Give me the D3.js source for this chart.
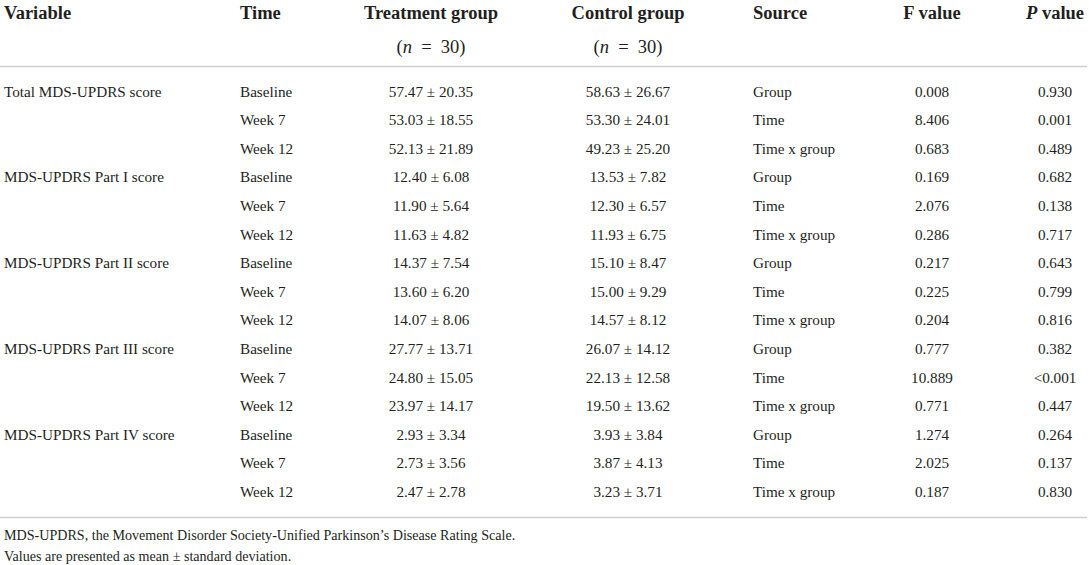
<!DOCTYPE html>
<html>
<head>
<meta charset="utf-8">
<script src="https://cdn.jsdelivr.net/npm/d3@7"></script>
<style>
  body { margin: 0; background: #fff; }
  svg text { font-family: "Liberation Serif", "Times New Roman", serif; fill: #231f20; }
</style>
</head>
<body>
<svg id="tbl" width="1089" height="565"></svg>
<script>
// table content
const variables = ["Total MDS-UPDRS score", "MDS-UPDRS Part I score", "MDS-UPDRS Part II score",
  "MDS-UPDRS Part III score", "MDS-UPDRS Part IV score"];
const times = ["Baseline", "Week 7", "Week 12"];
const sources = ["Group", "Time", "Time x group"];
const treatment = [
  "57.47 ± 20.35", "53.03 ± 18.55", "52.13 ± 21.89",
  "12.40 ± 6.08", "11.90 ± 5.64", "11.63 ± 4.82",
  "14.37 ± 7.54", "13.60 ± 6.20", "14.07 ± 8.06",
  "27.77 ± 13.71", "24.80 ± 15.05", "23.97 ± 14.17",
  "2.93 ± 3.34", "2.73 ± 3.56", "2.47 ± 2.78"
];
const control = [
  "58.63 ± 26.67", "53.30 ± 24.01", "49.23 ± 25.20",
  "13.53 ± 7.82", "12.30 ± 6.57", "11.93 ± 6.75",
  "15.10 ± 8.47", "15.00 ± 9.29", "14.57 ± 8.12",
  "26.07 ± 14.12", "22.13 ± 12.58", "19.50 ± 13.62",
  "3.93 ± 3.84", "3.87 ± 4.13", "3.23 ± 3.71"
];
const fValues = ["0.008", "8.406", "0.683", "0.169", "2.076", "0.286", "0.217", "0.225", "0.204",
  "0.777", "10.889", "0.771", "1.274", "2.025", "0.187"];
const pValues = ["0.930", "0.001", "0.489", "0.682", "0.138", "0.717", "0.643", "0.799", "0.816",
  "0.382", "<0.001", "0.447", "0.264", "0.137", "0.830"];
const footnotes = [
  "MDS-UPDRS, the Movement Disorder Society-Unified Parkinson’s Disease Rating Scale.",
  "Values are presented as mean ± standard deviation."
];

// one row per variable/time pair
const rows = d3.range(variables.length * times.length).map(i => ({
  variable: i % times.length === 0 ? variables[i / times.length] : "",
  time: times[i % times.length],
  treatment: treatment[i],
  control: control[i],
  source: sources[i % sources.length],
  f: fValues[i],
  p: pValues[i]
}));

// n = 30 line under the two group headers
const nLine = [{t: "(", w: "normal"}, {t: "n", i: true, w: "normal"}, {t: "\u2002=\u200230)", w: "normal"}];

// columns: x is left edge or centre depending on anchor
const columns = [
  {key: "variable", x: 4, anchor: "start", head: [[{t: "Variable"}]]},
  {key: "time", x: 240, anchor: "start", head: [[{t: "Time"}]]},
  {key: "treatment", x: 431, anchor: "middle", head: [[{t: "Treatment group"}], nLine]},
  {key: "control", x: 628, anchor: "middle", head: [[{t: "Control group"}], nLine]},
  {key: "source", x: 753, anchor: "start", head: [[{t: "Source"}]]},
  {key: "f", x: 932, anchor: "middle", head: [[{t: "F value"}]]},
  {key: "p", x: 1055, anchor: "middle", head: [[{t: "P", i: true}, {t: " value"}]]}
];

const svg = d3.select("#tbl");
const width = 1089;

const y = d3.scaleBand()
  .domain(d3.range(rows.length))
  .range([77, 506])
  .paddingInner(0);

// header
const head = svg.append("g").attr("class", "head");
columns.forEach(c => {
  c.head.forEach((line, li) => {
    const t = head.append("text")
      .attr("x", c.x)
      .attr("y", 19 + li * 34)
      .attr("text-anchor", c.anchor)
      .attr("font-size", 18.5)
      .attr("font-weight", "bold");
    line.forEach(part => {
      t.append("tspan")
        .attr("font-style", part.i ? "italic" : null)
        .attr("font-weight", part.w || null)
        .text(part.t);
    });
  });
});

// rules
const rules = [66.5, 517.5];
svg.selectAll("line.rule")
  .data(rules)
  .join("line")
  .attr("class", "rule")
  .attr("x1", 0)
  .attr("x2", width - 2)
  .attr("y1", d => d)
  .attr("y2", d => d)
  .attr("stroke", "#cfcfcf")
  .attr("stroke-width", 1.6);

// body rows
const body = svg.append("g").attr("class", "body");
const rowG = body.selectAll("g.row")
  .data(rows)
  .join("g")
  .attr("class", "row")
  .attr("transform", (d, i) => `translate(0,${y(i) + y.bandwidth() / 2})`);

rowG.selectAll("text")
  .data(d => columns.map(c => ({c, v: d[c.key]})))
  .join("text")
  .attr("x", d => d.c.x)
  .attr("dy", "0.35em")
  .attr("text-anchor", d => d.c.anchor)
  .attr("font-size", 15.2)
  .text(d => d.v);

// footnotes
svg.append("g")
  .selectAll("text")
  .data(footnotes)
  .join("text")
  .attr("x", 4)
  .attr("y", (d, i) => 535 + i * 21)
  .attr("dy", "0.35em")
  .attr("font-size", 14.1)
  .text(d => d);
</script>
</body>
</html>
